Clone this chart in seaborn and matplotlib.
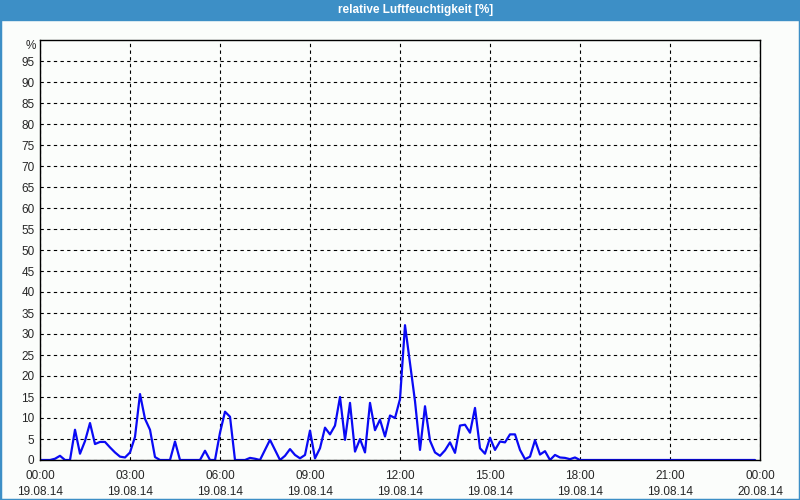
import numpy as np
import pandas as pd
import matplotlib.pyplot as plt
import seaborn as sns
from matplotlib.patches import Rectangle

# chart data (10-minute readings, 19.08.14)
title = "relative Luftfeuchtigkeit [%]"
humidity = [
    0, 0, 0, 0.3, 1.0, 0, 0, 7.2, 1.5, 4.5, 8.8, 3.8,
    4.3, 4.3, 3.0, 1.8, 0.8, 0.6, 1.8, 5.5, 15.7, 9.8, 7.2, 0.7,
    0, 0, 0, 4.4, 0, 0, 0, 0, 0, 2.2, 0, 0,
    6.5, 11.5, 10.3, 0, 0, 0, 0.5, 0.3, 0, 2.4, 4.8, 2.4,
    0, 1.0, 2.6, 1.2, 0.4, 1.2, 7.0, 0.4, 2.8, 7.7, 6.1, 8.2,
    15.0, 4.8, 13.6, 2.0, 5.0, 1.8, 13.6, 7.1, 9.6, 5.6, 10.6, 10.0,
    14.5, 32.1, 23.0, 14.0, 2.4, 12.8, 4.6, 1.8, 1.0, 2.3, 4.2, 1.7,
    8.2, 8.4, 6.5, 12.4, 2.8, 1.5, 5.3, 2.4, 4.4, 4.2, 6.1, 6.1,
    2.4, 0.2, 0.8, 4.7, 1.3, 2.1, 0, 1.2, 0.6, 0.5, 0.2, 0.6,
    0, 0, 0, 0, 0, 0, 0, 0, 0, 0, 0, 0,
    0, 0, 0, 0, 0, 0, 0, 0, 0, 0, 0, 0,
    0, 0, 0, 0, 0, 0, 0, 0, 0, 0, 0, 0,
]
hours = np.arange(len(humidity)) / 6

tick_hours = [0, 3, 6, 9, 12, 15, 18, 21, 24]
tick_labels = [
    "00:00\n19.08.14", "03:00\n19.08.14", "06:00\n19.08.14",
    "09:00\n19.08.14", "12:00\n19.08.14", "15:00\n19.08.14",
    "18:00\n19.08.14", "21:00\n19.08.14", "00:00\n20.08.14",
]
y_ticks = list(range(0, 100, 5))

df = pd.DataFrame({"hour": hours, "rh": humidity})

sns.set_style("white")
plt.rcParams["font.family"] = ["Liberation Sans", "DejaVu Sans"]

bg = "#fbfdfb"
frame_blue = "#3d8fc6"

fig = plt.figure(figsize=(8, 5), dpi=100, facecolor=bg)
ax = fig.add_axes([0.05, 0.08, 0.90, 0.84])
ax.set_facecolor(bg)

sns.lineplot(data=df, x="hour", y="rh", ax=ax, color="#0a0af5", linewidth=1.6)

ax.set_xlim(0, 24)
ax.set_ylim(0, 100)
ax.set_xlabel("")
ax.set_ylabel("")

ax.set_yticks(y_ticks)
ax.set_yticklabels([str(v) for v in y_ticks], fontsize=8.5)
ax.set_xticks(tick_hours)
ax.set_xticklabels(tick_labels, fontsize=8.5, linespacing=1.5)
ax.set_xticks(range(0, 25), minor=True)

ax.tick_params(axis="y", length=0, pad=4)
ax.tick_params(axis="x", which="both", length=4, width=0.8, color="black", pad=3, direction="out")

ax.grid(True, which="major", color="black", linestyle=(0, (3, 3)), linewidth=0.8)

for s in ax.spines.values():
    s.set_color("black")
    s.set_linewidth(1)

ax.text(-0.006, 98.6, "%", transform=ax.get_yaxis_transform(), ha="right", va="center", fontsize=8.5)

# title bar and window frame
fig.patches.append(Rectangle((0, 0.96), 1, 0.04, transform=fig.transFigure, color=frame_blue, zorder=0))
fig.text(416 / 800, 1 - 10 / 500, title, color="white", fontsize=8.5, fontweight="bold", ha="center", va="center")
fig.patches.append(Rectangle((0, 0), 1, 1, transform=fig.transFigure, fill=False, edgecolor=frame_blue, linewidth=2.5))

fig.savefig("out.png", dpi=100, facecolor=bg)
